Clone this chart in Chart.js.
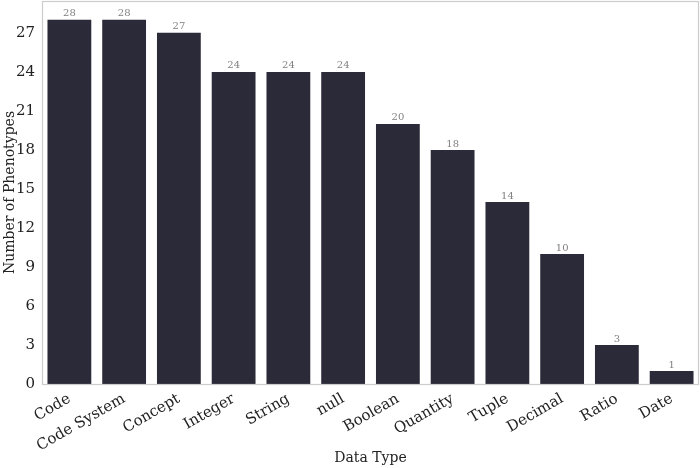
<!DOCTYPE html>
<html lang="en">
<head>
    <meta charset="UTF-8">
    <title>Phenotypes by Data Type</title>
    <script src="https://cdn.jsdelivr.net/npm/chart.js"></script>
    <style>
        html, body { margin: 0; padding: 0; background: #fff; }
        #wrap { width: 700px; height: 468px; }
    </style>
</head>
<body>
    <div id="wrap"><canvas id="chart"></canvas></div>

    <script>
        const dataTypes = ['Code', 'Code System', 'Concept', 'Integer', 'String', 'null',
            'Boolean', 'Quantity', 'Tuple', 'Decimal', 'Ratio', 'Date'];
        const phenotypeCounts = [28, 28, 27, 24, 24, 24, 20, 18, 14, 10, 3, 1];
        const yTicks = [0, 3, 6, 9, 12, 15, 18, 21, 24, 27];

        const serif = "'DejaVu Serif', serif";

        // grey box around the plot area
        const frame = {
            id: 'frame',
            afterDraw(chart) {
                const a = chart.chartArea, c = chart.ctx;
                c.save();
                c.strokeStyle = '#cccccc';
                c.lineWidth = 1.2;
                c.strokeRect(a.left + 0.5, a.top + 0.5, a.right - a.left - 1, a.bottom - a.top);
                c.restore();
            }
        };

        // count above each bar
        const barLabels = {
            id: 'barLabels',
            afterDatasetsDraw(chart) {
                const c = chart.ctx;
                const meta = chart.getDatasetMeta(0);
                c.save();
                c.font = "10px " + serif;
                c.fillStyle = '#808080';
                c.textAlign = 'center';
                c.textBaseline = 'bottom';
                meta.data.forEach((bar, i) => {
                    c.fillText(phenotypeCounts[i], bar.x, bar.y - 1);
                });
                c.restore();
            }
        };

        new Chart(document.getElementById('chart'), {
            type: 'bar',
            data: {
                labels: dataTypes,
                datasets: [{
                    data: phenotypeCounts,
                    backgroundColor: '#2b2a38',
                    categoryPercentage: 1.0,
                    barPercentage: 0.8
                }]
            },
            options: {
                responsive: true,
                maintainAspectRatio: false,
                animation: false,
                layout: { padding: { top: 1, right: 1, left: 0, bottom: 0 } },
                plugins: { legend: { display: false }, tooltip: { enabled: false } },
                scales: {
                    x: {
                        grid: { display: false, drawTicks: false },
                        border: { display: false },
                        ticks: {
                            color: '#222',
                            font: { family: serif, size: 15 },
                            maxRotation: 30,
                            minRotation: 30,
                            padding: 6
                        },
                        title: {
                            display: true,
                            text: 'Data Type',
                            color: '#222',
                            font: { family: serif, size: 14 },
                            padding: { top: 10, bottom: 1 }
                        },
                        afterFit(scale) {
                            scale.height = 84;
                            scale.paddingLeft = 0;
                            scale.paddingRight = 0;
                        }
                    },
                    y: {
                        min: 0,
                        max: 29.45,
                        afterBuildTicks(scale) {
                            scale.ticks = yTicks.map(v => ({ value: v }));
                        },
                        grid: { display: false, drawTicks: false },
                        border: { display: false },
                        ticks: {
                            color: '#222',
                            font: { family: serif, size: 15 },
                            padding: 7
                        },
                        title: {
                            display: true,
                            text: 'Number of Phenotypes',
                            color: '#222',
                            font: { family: serif, size: 14 },
                            padding: { top: 2, bottom: 0 }
                        },
                        afterFit(scale) {
                            scale.width = 42;
                            scale.paddingTop = 0;
                            scale.paddingBottom = 0;
                        }
                    }
                }
            },
            plugins: [frame, barLabels]
        });
    </script>
</body>
</html>
